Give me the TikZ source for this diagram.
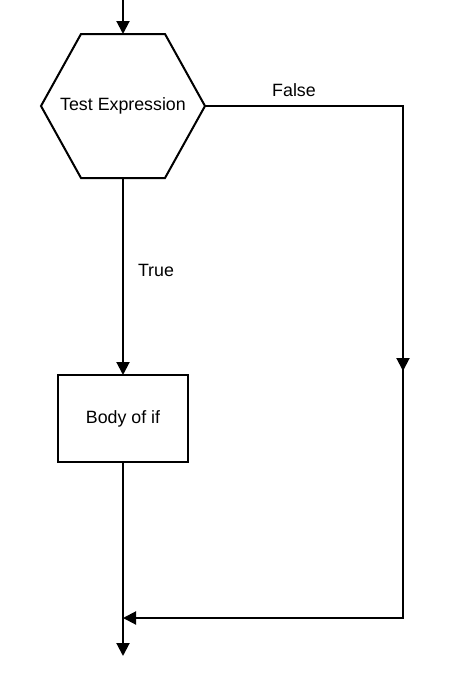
\documentclass[tikz,border=0pt]{standalone}
\usepackage{fontspec}
\setmainfont{Liberation Sans}
\usetikzlibrary{arrows.meta}
\begin{document}
\begin{tikzpicture}[x=1pt,y=-1pt,
  line width=2pt,
  txt/.style={font=\fontsize{17.8}{20}\selectfont, inner sep=0pt},
  arr/.style={-{Triangle[length=13pt,width=13pt]}},
  plainnode/.style={txt, outer sep=0pt},
  boxnode/.style={txt, draw, outer sep=0pt, minimum width=130pt, minimum height=87pt}]
\useasboundingbox (0,0) rectangle (450,683);
\node[plainnode, minimum width=164pt, minimum height=144pt] (test) at (123,106) {Test Expression};
\draw (test.west) -- ([xshift=40pt]test.north west) -- ([xshift=-40pt]test.north east)
  -- (test.east) -- ([xshift=-40pt]test.south east) -- ([xshift=40pt]test.south west) -- cycle;
\node[boxnode] (body) at (123,418.5) {Body of if};
\coordinate (start) at (123,0);
\coordinate (fr) at (403,106);
\coordinate (mid) at (403,371);
\coordinate (br) at (403,618);
\coordinate (join) at (123,618);
\coordinate (end) at (123,656);
\draw[arr] (start) -- (test.north);
\draw[arr] (test.south) -- (body.north);
\draw[arr] (test.east) -- (fr) -- (br) -- (join);
\draw[arr] (fr) -- (mid);
\draw[arr] (body.south) -- (end);
\node[txt] (truelbl) at (156,270) {True};
\node[txt] (falselbl) at (294,90) {False};
\end{tikzpicture}
\end{document}
